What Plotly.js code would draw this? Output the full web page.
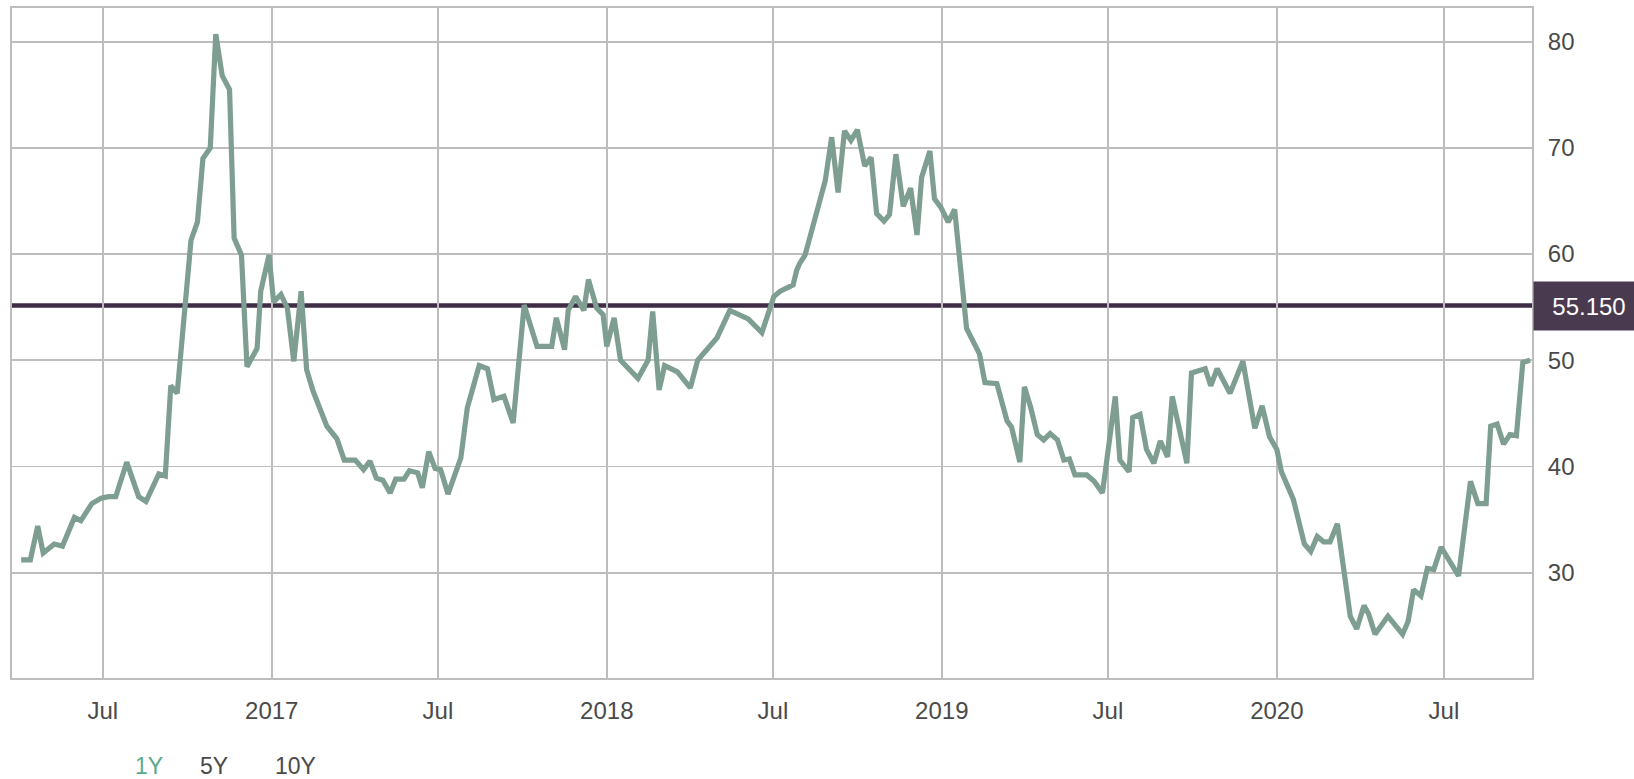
<!DOCTYPE html>
<html>
<head>
<meta charset="utf-8">
<script src="https://cdn.plot.ly/plotly-3.0.1.min.js"></script>
<style>html,body{margin:0;padding:0;background:#fff;}#chart{width:1634px;height:779px;}</style>
</head>
<body>
<div id="chart"></div>
<script>
// ---- data ----
const dates = [
"2016-04-03","2016-04-13","2016-04-21","2016-04-27","2016-05-09","2016-05-18","2016-05-31","2016-06-07","2016-06-19","2016-06-29",
"2016-07-07","2016-07-15","2016-07-27","2016-08-09","2016-08-17","2016-08-31","2016-09-07","2016-09-13","2016-09-20","2016-10-05",
"2016-10-12","2016-10-18","2016-10-26","2016-11-01","2016-11-08","2016-11-16","2016-11-21","2016-11-29","2016-12-05","2016-12-16",
"2016-12-20","2016-12-29","2017-01-03","2017-01-11","2017-01-18","2017-01-25","2017-02-02","2017-02-08","2017-02-15","2017-02-21",
"2017-03-02","2017-03-13","2017-03-21","2017-04-02","2017-04-11","2017-04-18","2017-04-25","2017-05-02","2017-05-10","2017-05-16",
"2017-05-25","2017-05-31","2017-06-09","2017-06-14","2017-06-21","2017-06-28","2017-07-04","2017-07-12","2017-07-26","2017-08-02",
"2017-08-15","2017-08-24","2017-08-31","2017-09-11","2017-09-21","2017-10-03","2017-10-17","2017-11-02","2017-11-07","2017-11-16",
"2017-11-20","2017-11-28","2017-12-07","2017-12-12","2017-12-21","2017-12-28","2018-01-01","2018-01-09","2018-01-16","2018-02-04",
"2018-02-15","2018-02-20","2018-02-27","2018-03-05","2018-03-19","2018-04-02","2018-04-10","2018-04-18","2018-05-01","2018-05-15",
"2018-06-04","2018-06-19","2018-07-02","2018-07-09","2018-07-23","2018-07-27","2018-07-30","2018-08-05","2018-08-14","2018-08-27",
"2018-09-03","2018-09-10","2018-09-17","2018-09-24","2018-10-01","2018-10-09","2018-10-16","2018-10-22","2018-10-30","2018-11-05",
"2018-11-12","2018-11-20","2018-11-28","2018-12-05","2018-12-10","2018-12-19","2018-12-24","2018-12-31","2019-01-08","2019-01-15",
"2019-01-28","2019-02-02","2019-02-11","2019-02-17","2019-03-02","2019-03-13","2019-03-18","2019-03-27","2019-04-01","2019-04-08",
"2019-04-15","2019-04-22","2019-04-29","2019-05-07","2019-05-14","2019-05-20","2019-05-26","2019-06-08","2019-06-16","2019-06-25",
"2019-07-09","2019-07-14","2019-07-24","2019-07-28","2019-08-05","2019-08-12","2019-08-20","2019-08-27","2019-09-04","2019-09-09",
"2019-09-18","2019-09-25","2019-09-30","2019-10-15","2019-10-21","2019-10-28","2019-11-11","2019-11-25","2019-12-08","2019-12-16",
"2019-12-24","2020-01-01","2020-01-06","2020-01-19","2020-01-31","2020-02-07","2020-02-14","2020-02-21","2020-02-28","2020-03-07",
"2020-03-21","2020-03-28","2020-04-05","2020-04-10","2020-04-17","2020-05-01","2020-05-17","2020-05-23","2020-05-29","2020-06-06",
"2020-06-13","2020-06-20","2020-06-28","2020-07-17","2020-07-30","2020-08-07","2020-08-16","2020-08-21","2020-08-28","2020-09-04",
"2020-09-11","2020-09-18","2020-09-25","2020-10-03"
];
const values = [
31.2,31.2,34.4,31.85,32.7,32.5,35.2,34.9,36.5,37.0,
37.15,37.15,40.4,37.15,36.7,39.3,39.1,47.6,46.9,61.3,
63.0,69.0,70.0,80.7,76.8,75.5,61.5,59.9,49.4,51.1,
56.5,59.9,55.5,56.2,54.9,49.9,56.5,49.1,47.1,45.7,
43.8,42.6,40.6,40.6,39.7,40.5,38.9,38.7,37.5,38.8,
38.8,39.6,39.4,38.0,41.4,39.8,39.7,37.4,40.8,45.5,
49.5,49.2,46.3,46.6,44.1,55.2,51.3,51.3,54.0,51.0,
54.7,56.0,54.7,57.6,54.9,54.3,51.3,54.0,50.0,48.3,
50.0,54.6,47.2,49.5,48.9,47.4,50.0,50.8,52.1,54.7,
53.9,52.6,56.0,56.5,57.1,58.5,59.1,59.9,62.6,66.9,
71.0,65.8,71.6,70.7,71.7,68.3,69.1,63.8,63.1,63.7,
69.4,64.5,66.2,61.8,67.2,69.7,65.2,64.4,63.0,64.2,
53.0,52.1,50.6,47.9,47.8,44.3,43.7,40.4,47.5,45.5,
43.0,42.5,43.1,42.5,40.6,40.7,39.2,39.2,38.6,37.5,
46.6,40.6,39.5,44.6,44.9,41.6,40.3,42.4,40.9,46.6,
43.0,40.3,48.8,49.2,47.6,49.2,46.9,49.9,43.6,45.7,
42.8,41.6,39.5,36.9,32.7,32.0,33.4,32.9,32.9,34.6,
25.9,24.7,26.9,26.1,24.2,25.9,24.2,25.4,28.4,27.8,
30.4,30.3,32.4,29.7,38.6,36.5,36.5,43.8,44.0,42.1,
43.0,42.9,49.8,50.0
];
const refLevel = 55.15;
const refLabel = "55.150";
const xTickVals = ["2016-07-01","2017-01-01","2017-07-01","2018-01-01","2018-07-01","2019-01-01","2019-07-01","2020-01-01","2020-07-01"];
const xTickText = ["Jul","2017","Jul","2018","Jul","2019","Jul","2020","Jul"];
const yTickVals = [30,40,50,60,70,80];
const rangeButtons = ["1Y","5Y","10Y"];
const activeButton = "1Y";

// ---- style / layout ----
const FONT = '"Liberation Sans", Arial, Helvetica, sans-serif';
const GRID = '#bdbdbd';
const buttonX = [0.0796, 0.1224, 0.1717];

const annotations = [{
  xref:'paper', x:1, xanchor:'left', xshift:1,
  yref:'y', y:refLevel, yanchor:'middle',
  text:refLabel, showarrow:false,
  font:{family:FONT, size:24, color:'#ffffff'},
  bgcolor:'#4a3a50', width:110, height:48, align:'center', borderpad:0
}];
rangeButtons.forEach((b,i)=>{
  annotations.push({
    xref:'paper', x:buttonX[i], xanchor:'left',
    yref:'paper', y:-0.1313, yanchor:'middle',
    text:b, showarrow:false,
    font:{family:FONT, size:23, color: b===activeButton ? '#5aa98f' : '#4a4a4a'}
  });
});

const trace = {
  x: dates, y: values, type:'scatter', mode:'lines',
  line:{color:'#7d9e90', width:5.2},
  hoverinfo:'x+y'
};

const layout = {
  width:1634, height:779,
  margin:{l:12, r:102, t:8, b:101},
  paper_bgcolor:'#ffffff', plot_bgcolor:'#ffffff',
  showlegend:false,
  font:{family:FONT, size:24, color:'#4a4a4a'},
  xaxis:{
    type:'date',
    range:['2016-03-24','2020-10-05'],
    tickvals:xTickVals, ticktext:xTickText,
    ticks:'', ticklabelstandoff:10,
    showgrid:true, gridcolor:GRID, gridwidth:1.7,
    showline:true, mirror:true, linecolor:GRID, linewidth:2,
    zeroline:false, tickfont:{family:FONT, size:24, color:'#4a4a4a'}
  },
  yaxis:{
    side:'right',
    range:[20.08, 83.17],
    tickvals:yTickVals,
    ticks:'', ticklabelstandoff:9,
    showgrid:true, gridcolor:GRID, gridwidth:1.7,
    showline:true, mirror:true, linecolor:GRID, linewidth:2,
    zeroline:false, tickfont:{family:FONT, size:24, color:'#4a4a4a'}
  },
  shapes:[{
    type:'line', xref:'paper', x0:0, x1:1, yref:'y', y0:refLevel, y1:refLevel,
    line:{color:'#3e2d45', width:4.5}, layer:'below'
  }],
  annotations: annotations
};

Plotly.newPlot('chart', [trace], layout, {displayModeBar:false, staticPlot:true});
</script>
</body>
</html>
